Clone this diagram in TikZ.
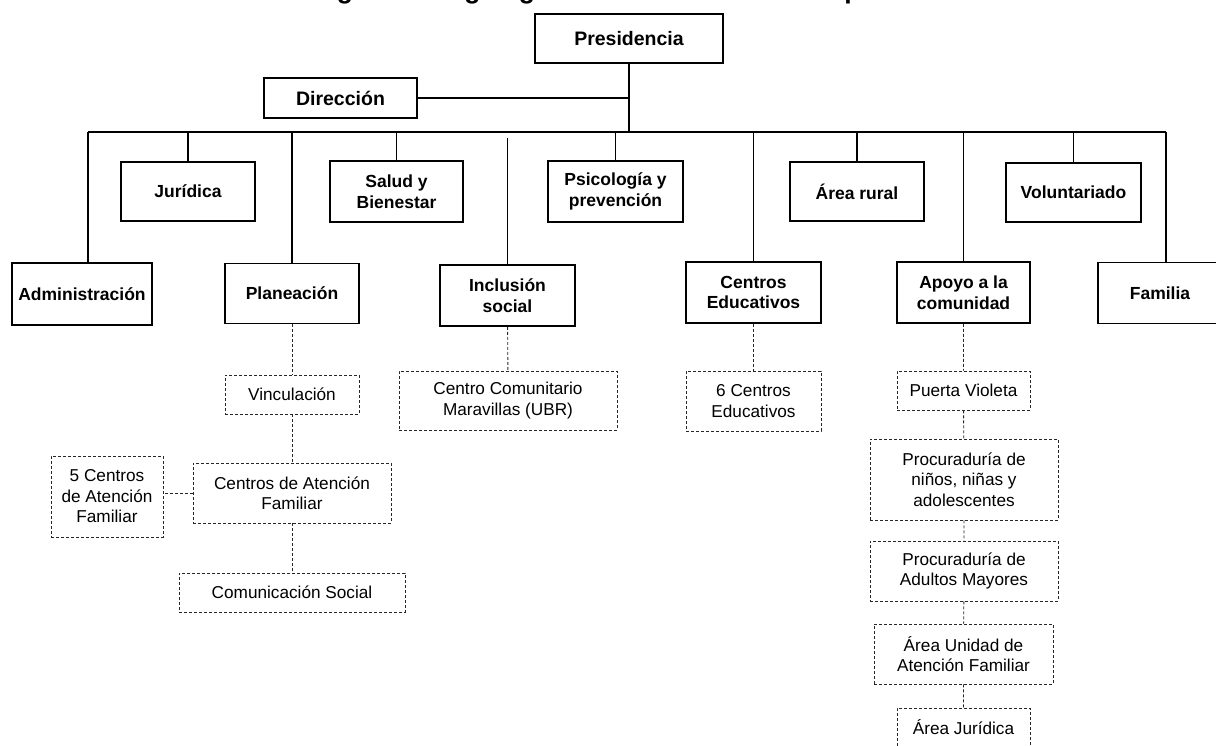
\documentclass[tikz,border=0pt]{standalone}
\usepackage{fontspec}
\setmainfont{Liberation Sans}
\tikzset{
    area/.style={draw, line width=1.5pt, fill=white, align=center, inner sep=0pt,
        font=\bfseries\fontsize{17.5}{20.5}\selectfont},
    subarea/.style={draw=black!85, line width=0.9pt, dash pattern=on 3pt off 2pt,
        fill=white, align=center, inner sep=0pt, font=\fontsize{17.2}{20.5}\selectfont},
    dims/.style 2 args={minimum width=#1pt, minimum height=#2pt},
    enlace/.style={line width=1.5pt},
    enlacesub/.style={draw=black!85, line width=0.9pt, dash pattern=on 3pt off 2pt},
}

\begin{document}
\begin{tikzpicture}[x=1pt, y=-1pt]
    \useasboundingbox (0,0) rectangle (1216,745);
    %titulo (cortado arriba)
    \begin{scope}
        \clip (0,0) rectangle (1216,745);
        \node[anchor=base west, inner sep=0pt, font=\bfseries\fontsize{26.5}{30}\selectfont] (titulo) at (313,-2) {Figura 1. Organigrama del Sistema Municipal};
    \end{scope}
    %direccion general
    \node[area, dims={188}{49}, font=\bfseries\fontsize{19.5}{22}\selectfont] (pres) at (629,38.5) {Presidencia};
    \node[area, dims={153}{40}, font=\bfseries\fontsize{19.5}{22}\selectfont] (dir) at (340.5,98) {Dirección};
    \coordinate (busL) at (88,132);
    \coordinate (busR) at (1166,132);
    %fila alta
    \node[area, dims={134}{59}] (jur) at (188,191.5) {Jurídica};
    \node[area, dims={133}{61}] (salud) at (396.5,191.5) {Salud y\\Bienestar};
    \node[area, dims={135}{61}] (psico) at (615.5,191.5) {Psicología y\\prevención};
    \node[area, dims={134}{59}] (rural) at (857,191.5) {Área rural};
    \node[area, dims={135}{59}] (volun) at (1073.5,192.5) {Voluntariado};
    %fila baja
    \node[area, dims={140}{62}] (admin) at (82,294) {Administración};
    \node[area, dims={134}{60}] (plan) at (292,293.5) {Planeación};
    \node[area, dims={135}{61}] (incl) at (507.5,295.5) {Inclusión\\social};
    \node[area, dims={135}{61}] (edu) at (753.5,292.5) {Centros\\Educativos};
    \node[area, dims={133}{61}] (apoyo) at (963.5,292.5) {Apoyo a la\\comunidad};
    \node[area, dims={124}{61}] (fam) at (1160,293) {Familia};
    %subareas
    \node[subarea, dims={134}{39}] (vinc) at (292,394.5) {Vinculación};
    \node[subarea, dims={198}{60}] (caf) at (292,493) {Centros de Atención\\Familiar};
    \node[subarea, dims={112}{81}] (cinco) at (107,496.5) {5 Centros\\de Atención\\Familiar};
    \node[subarea, dims={226}{39}] (comu) at (292,592.5) {Comunicación Social};
    \node[subarea, dims={218}{59}] (ccm) at (508,400.5) {Centro Comunitario\\Maravillas (UBR)};
    \node[subarea, dims={135}{60}] (seis) at (753.5,401) {6 Centros\\Educativos};
    \node[subarea, dims={133}{39}] (puerta) at (963.5,390.5) {Puerta Violeta};
    \node[subarea, dims={188}{81}] (pnna) at (964,479.5) {Procuraduría de\\niños, niñas y\\adolescentes};
    \node[subarea, dims={188}{60}] (pam) at (964,571) {Procuraduría de\\Adultos Mayores};
    \node[subarea, dims={179}{60}] (uaf) at (963.5,654) {Área Unidad de\\Atención Familiar};
    \node[subarea, dims={133}{39}] (ajur) at (963.5,727.5) {Área Jurídica};
    %lineas
    \draw[enlace] (pres.south) -- (pres.south |- busL);
    \draw[enlace] (dir.east) -- (dir.east -| pres.south);
    \draw[enlace] (busL) -- (busR);
    \draw[enlace] (admin.north -| busL) -- (busL);
    \draw[enlace] (fam.north -| busR) -- (busR);
    \foreach \n in {jur,salud,psico,rural,volun,plan,edu,apoyo}
        \draw[enlace] (\n.north) -- (\n.north |- busL);
    \draw[enlace] (incl.north) -- ([yshift=-6pt]incl.north |- busL);
    \draw[enlacesub] (plan) -- (vinc) -- (caf) -- (comu);
    \draw[enlacesub] (caf.west) -- (caf.west -| cinco.east);
    \draw[enlacesub] (incl) -- (ccm);
    \draw[enlacesub] (edu) -- (seis);
    \draw[enlacesub] (apoyo) -- (puerta) -- (pnna) -- (pam) -- (uaf) -- (ajur);
\end{tikzpicture}
\end{document}
